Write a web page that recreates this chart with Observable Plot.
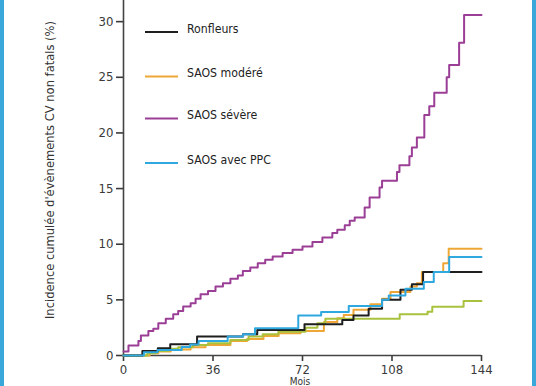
<!DOCTYPE html>
<html>
<head>
<meta charset="utf-8">
<script src="https://cdn.jsdelivr.net/npm/d3@7"></script>
<script src="https://cdn.jsdelivr.net/npm/@observablehq/plot@0.6"></script>
<style>
  html, body { margin: 0; padding: 0; background: #fff; overflow: hidden; }
  #wrap { position: relative; width: 536px; height: 386px; overflow: hidden; }
  .edge { position: absolute; top: 0; width: 4px; height: 386px; background: #3aa7db; }
</style>
</head>
<body>
<div id="wrap">
  <div id="chart"></div>
  <div class="edge" style="left:0"></div>
  <div class="edge" style="right:0"></div>
</div>
<script>
// ---- data (months, cumulative incidence %) ----
const xTicks = [0, 36, 72, 108, 144];
const yTicks = [0, 5, 10, 15, 20, 25, 30];

const seriesNames = ["Ronfleurs", "SAOS modéré", "SAOS sévère", "SAOS avec PPC"];
const seriesColors = ["#1e1e1e", "#eea737", "#9b3e96", "#2fa8df"];
const extraName = "SAOS traité";
const extraColor = "#a8c23e";

const ronfleursT = [0, 7.6, 13.8, 18.8, 29.6, 48.1, 53.8, 72.8, 88, 92.5, 98.6, 104, 111.4, 116, 120.5, 144];
const ronfleursV = [0, 0.4, 0.65, 1.0, 1.7, 1.9, 2.3, 2.8, 3.2, 3.6, 4.2, 5.0, 5.9, 6.4, 7.5, 7.5];

const modereT = [0, 10.5, 14, 19, 27, 33, 43, 49.7, 56.3, 62.4, 71.2, 80.6, 86, 88.6, 92.5, 99.3, 104, 107.4, 115.4, 118, 120, 128.6, 130.8, 144];
const modereV = [0, 0.2, 0.35, 0.55, 0.75, 0.95, 1.3, 1.48, 1.75, 2.0, 2.2, 3.0, 3.35, 3.65, 4.1, 4.6, 5.1, 5.7, 6.2, 6.5, 7.5, 8.3, 9.6, 9.6];

const severeT = [0, 2, 6, 7, 10, 12, 14, 17, 20, 22, 24, 27, 29, 31, 34, 37, 40, 43, 46, 48, 51, 54, 57, 60, 64, 68, 72, 76, 80, 84, 86, 89, 91, 93, 97, 99, 103, 104, 110, 111, 115, 116, 118, 121, 123, 125, 130, 131, 135, 137, 144];
const severeV = [0.35, 0.9, 1.3, 1.8, 2.2, 2.4, 2.9, 3.3, 3.7, 4.0, 4.4, 4.7, 5.1, 5.5, 5.8, 6.2, 6.5, 6.9, 7.2, 7.6, 7.9, 8.3, 8.6, 8.9, 9.2, 9.5, 9.8, 10.2, 10.6, 11.0, 11.3, 11.7, 12.1, 12.4, 13.3, 14.2, 15.1, 15.7, 16.5, 17.1, 17.9, 18.7, 19.6, 21.6, 22.4, 23.6, 25.0, 26.1, 28.1, 30.6, 30.6];

const ppcT = [0, 8.2, 13.7, 23.4, 26.8, 30.2, 41.9, 48.1, 52.9, 70.3, 79.5, 90.6, 104, 106.7, 113.4, 120.8, 124.8, 131, 144];
const ppcV = [0, 0.3, 0.5, 0.76, 0.98, 1.3, 1.7, 1.9, 2.45, 3.6, 3.9, 4.45, 5.0, 5.4, 6.0, 6.6, 7.5, 8.85, 8.85];

const traiteT = [0, 9.6, 13, 18, 22, 28, 34, 43, 50.3, 56, 62.3, 73.2, 78, 81.2, 111.1, 122.3, 124.2, 136.8, 144];
const traiteV = [0, 0.2, 0.4, 0.6, 0.75, 0.95, 1.1, 1.4, 1.7, 1.9, 2.14, 2.5, 2.9, 3.3, 3.7, 3.93, 4.38, 4.9, 4.9];

const rows = (name, T, V) => T.map((t, i) => ({ month: t, value: V[i], group: name }));
const data = [
  ...rows("SAOS modéré", modereT, modereV),
  ...rows(extraName, traiteT, traiteV),
  ...rows("Ronfleurs", ronfleursT, ronfleursV),
  ...rows("SAOS sévère", severeT, severeV),
  ...rows("SAOS avec PPC", ppcT, ppcV)
];

const FONT = "'DejaVu Sans Condensed', 'DejaVu Sans', sans-serif";

const chart = Plot.plot({
  width: 536,
  height: 386,
  marginLeft: 123,
  marginRight: 55,
  marginTop: 0,
  marginBottom: 31,
  style: { fontFamily: FONT, fontSize: "13px", color: "#3a3a3a", background: "transparent" },
  x: { domain: [0, 144], ticks: xTicks, tickSize: 6, tickPadding: 3, label: null },
  y: { domain: [0, 31.9], ticks: yTicks, tickSize: 7, tickPadding: 3, label: null },
  color: { domain: [...seriesNames, extraName], range: [...seriesColors, extraColor] },
  marks: [
    Plot.ruleX([0], { stroke: "#444", strokeWidth: 1.6 }),
    Plot.ruleY([0], { stroke: "#444", strokeWidth: 1.6 }),
    Plot.line(data, {
      x: "month", y: "value", z: "group", stroke: "group",
      curve: "step-after", strokeWidth: 2
    })
  ]
});
document.getElementById("chart").appendChild(chart);

const svg = d3.select(chart);
svg.selectAll("g[aria-label='x-axis tick'] path, g[aria-label='y-axis tick'] path")
  .attr("stroke-width", 1.6);

// y-axis title
svg.append("text")
  .attr("transform", "translate(50,170) rotate(-90)")
  .attr("text-anchor", "middle")
  .attr("dominant-baseline", "middle")
  .attr("font-family", FONT)
  .attr("font-size", 12.8)
  .attr("fill", "#333")
  .text("Incidence cumulée d'évènements CV non fatals (%)");

// x-axis title (at the bottom edge)
svg.append("text")
  .attr("x", 300)
  .attr("y", 385)
  .attr("text-anchor", "middle")
  .attr("font-family", FONT)
  .attr("font-size", 10)
  .attr("fill", "#333")
  .text("Mois");

// legend
const legendY = [32, 76.5, 118.5, 163];
const lg = svg.append("g").attr("text-anchor", "start");
seriesNames.forEach((name, i) => {
  lg.append("line")
    .attr("x1", 145).attr("x2", 178)
    .attr("y1", legendY[i]).attr("y2", legendY[i])
    .attr("stroke", seriesColors[i]).attr("stroke-width", 2);
  lg.append("text")
    .attr("x", 187).attr("y", legendY[i] - 3)
    .attr("text-anchor", "start")
    .attr("dominant-baseline", "middle")
    .attr("font-family", FONT)
    .attr("font-size", 12.2)
    .attr("fill", "#222")
    .text(name);
});
</script>
</body>
</html>
